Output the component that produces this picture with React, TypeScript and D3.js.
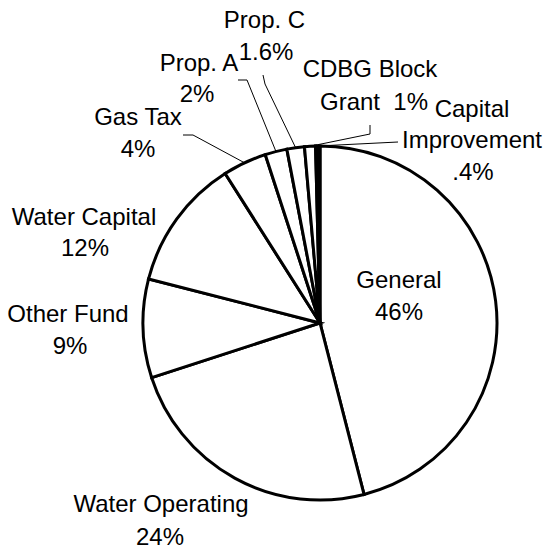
import React from "react";
import * as d3 from "d3";

const categories = [
  "General",
  "Water Operating",
  "Other Fund",
  "Water Capital",
  "Gas Tax",
  "Prop. A",
  "Prop. C",
  "CDBG Block Grant",
  "Capital Improvement",
];
const values = [46, 24, 9, 12, 4, 2, 1.6, 1, 0.4];
const pctLabels = ["46%", "24%", "9%", "12%", "4%", "2%", "1.6%", "1%", ".4%"];
// how each label's text is broken into lines
const labelLines = [
  ["General", "46%"],
  ["Water Operating", "24%"],
  ["Other Fund", "9%"],
  ["Water Capital", "12%"],
  ["Gas Tax", "4%"],
  ["Prop. A", "2%"],
  ["Prop. C", "1.6%"],
  ["CDBG Block", "Grant  1%"],
  ["Capital", "Improvement", ".4%"],
];

// layout (positions of labels, not data)
const W = 547;
const H = 546;
const CX = 320;
const CY = 323;
const R = 177;
const labelLayout: { x: number[]; y: number[] }[] = [
  { x: [399, 399], y: [288, 320] },
  { x: [161, 160], y: [512, 545] },
  { x: [68, 70], y: [322, 354] },
  { x: [84, 85], y: [225, 256] },
  { x: [138, 138], y: [125, 157] },
  { x: [199, 197], y: [71, 102] },
  { x: [264.5, 266], y: [28, 60] },
  { x: [370, 374], y: [77, 110] },
  { x: [472, 472, 473], y: [117, 148, 180] },
];
// leader line start points (text side); end is at slice edge
const leaderStarts: ([number, number][] | null)[] = [
  null,
  null,
  null,
  null,
  [[183, 135], [193, 135]],
  [[238, 80], [247, 80]],
  [[263, 75], [265, 84]],
  [[370, 125], [370, 134]],
  [[398, 142]],
];

export default function App() {
  const data = categories.map((c, i) => ({ name: c, value: values[i], pct: pctLabels[i], i }));
  const pie = d3.pie<any>().sort(null).value((d: any) => d.value);
  const arcs = pie(data);
  const arcGen = d3.arc<any>().innerRadius(0).outerRadius(R);
  const line = d3.line();

  return (
    <svg
      width={W}
      height={H}
      style={{ position: "fixed", left: 0, top: 0, background: "#fff" }}
      fontFamily="'Liberation Sans', Arial, Helvetica, sans-serif"
      fontSize={24}
    >
      <rect width={W} height={H} fill="#fff" />
      <g transform={`translate(${CX},${CY})`}>
        {arcs.map((a, i) => (
          <path
            key={i}
            d={arcGen(a) || ""}
            fill={i === arcs.length - 1 ? "#000" : "#fff"}
            stroke="#000"
            strokeWidth={3}
            strokeLinejoin="miter"
          />
        ))}
      </g>
      {arcs.map((a, i) => {
        const st = leaderStarts[i];
        if (!st) return null;
        const mid = (a.startAngle + a.endAngle) / 2;
        const end: [number, number] = [CX + Math.sin(mid) * R, CY - Math.cos(mid) * R];
        return (
          <path key={"l" + i} d={line([...st, end]) || ""} fill="none" stroke="#000" strokeWidth={1} />
        );
      })}
      {labelLines.map((lines, i) => (
        <g key={"t" + i}>
          {lines.map((t, j) => (
            <text
              key={j}
              x={labelLayout[i].x[j]}
              y={labelLayout[i].y[j]}
              textAnchor="middle"
              fill="#000"
              style={{ whiteSpace: "pre" }}
            >
              {t}
            </text>
          ))}
        </g>
      ))}
    </svg>
  );
}
